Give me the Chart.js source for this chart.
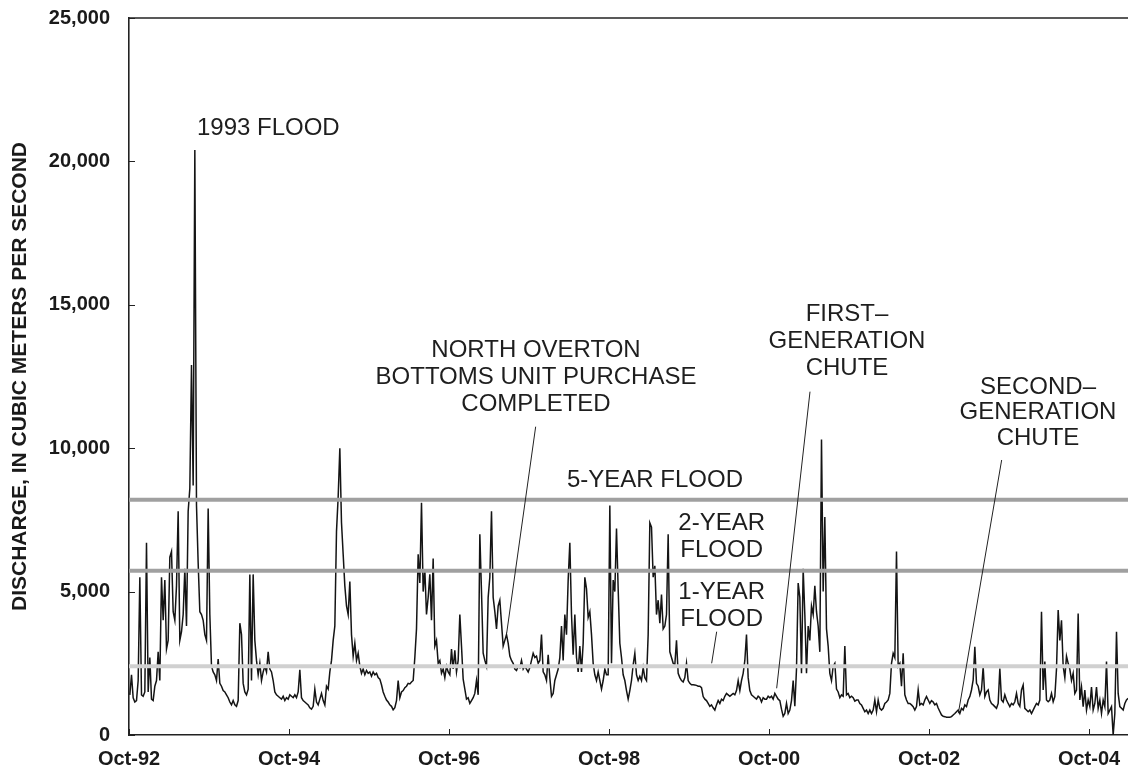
<!DOCTYPE html>
<html>
<head>
<meta charset="utf-8">
<title>Discharge 1992-2005</title>
<script src="https://cdn.jsdelivr.net/npm/chart.js@4.4.1/dist/chart.umd.min.js"></script>
<style>
  html, body { margin: 0; padding: 0; background: #ffffff; }
  #wrap { width: 1128px; height: 779px; }
</style>
</head>
<body>
<div id="wrap"><canvas id="flowChart" width="1128" height="779"></canvas></div>
<script>
// daily discharge, 4 samples per month, one array per water year (Oct-Sep)
var wy1993 = [1400, 2100, 1300, 1150, 1200, 1900, 5500, 1400, 1350, 1500, 6700, 1500,
              2700, 1250, 1200, 1700, 1900, 2900, 1900, 5500, 4000, 5400, 3000, 3300,
              6200, 6400, 4300, 4000, 5200, 7800, 3300, 3600, 4200, 5800, 3800, 7800,
              8600, 12900, 8700, 20400, 8000, 6000, 4300, 4200, 4000, 3500, 3300, 7900];
var wy1994 = [4200, 2400, 2200, 2100, 1900, 2650, 1800, 1700, 1550, 1500, 1400, 1300,
              1150, 1050, 1200, 1050, 1000, 1200, 3900, 3500, 1800, 1500, 1400, 1600,
              5600, 1900, 5600, 3300, 2600, 2100, 2500, 1900, 2200, 2400, 2200, 2900,
              2300, 2200, 1900, 1500, 1400, 1350, 1300, 1250, 1350, 1200, 1300, 1250];
var wy1995 = [1400, 1350, 1300, 1400, 1300, 1500, 2270, 1300, 1200, 1150, 1100, 1050,
              950, 900, 1000, 1600, 1150, 1050, 1250, 1450, 1200, 1050, 1700, 1600,
              2200, 2600, 3300, 3800, 7100, 8300, 10000, 7400, 6300, 5200, 4500, 4200,
              5350, 3500, 2750, 3200, 2600, 2850, 2400, 2150, 2300, 2100, 2250, 2150];
var wy1996 = [2200, 2050, 2200, 2100, 2150, 2000, 1950, 1750, 1500, 1350, 1220, 1150,
              1050, 1000, 880, 950, 1200, 1900, 1300, 1500, 1550, 1650, 1700, 1800,
              1780, 1850, 1900, 2700, 3700, 6300, 5300, 8100, 5000, 5750, 4200, 4800,
              5600, 4000, 6150, 3100, 3300, 2500, 2600, 2150, 2300, 2000, 2400, 2200];
var wy1997 = [2100, 3000, 2300, 2950, 2200, 2600, 4200, 3100, 1950, 1600, 1250, 1300,
              1100, 1200, 1300, 1450, 1900, 1400, 7000, 5000, 2850, 2600, 2400, 4800,
              5500, 7800, 4800, 4300, 3700, 4500, 4700, 3900, 3100, 3300, 3500, 3200,
              2750, 2600, 2500, 2300, 2250, 2400, 2350, 2600, 2300, 2400, 2300, 2200];
var wy1998 = [2350, 2600, 2850, 2700, 2750, 2500, 2600, 3500, 2200, 2100, 1900, 2800,
              2000, 1350, 1450, 1900, 2100, 2300, 2700, 3800, 2600, 4200, 3500, 5400,
              6700, 4200, 2800, 4200, 2700, 2200, 3100, 2200, 3200, 5500, 5100, 4100,
              4300, 3500, 2500, 2100, 1900, 2200, 1900, 1600, 1900, 2300, 2100, 2100];
var wy1999 = [8000, 2500, 5400, 5000, 7200, 5100, 3200, 2700, 2100, 1900, 1550, 1250,
              1550, 1900, 2450, 2850, 2100, 1900, 2050, 1900, 2350, 2000, 1900, 3500,
              7400, 7250, 5500, 5900, 4200, 4700, 3900, 4900, 3700, 3800, 4200, 7000,
              2900, 2700, 2500, 2450, 3300, 2150, 2000, 1900, 1850, 2000, 2500, 1900];
var wy2000 = [1800, 1750, 1750, 1740, 1730, 1700, 1700, 1650, 1340, 1250, 1200, 1100,
              1000, 1050, 950, 870, 1050, 1200, 1100, 1250, 1200, 1350, 1450, 1400,
              1350, 1400, 1450, 1400, 1550, 1900, 1550, 1900, 2150, 2600, 3500, 2000,
              1550, 1400, 1350, 1300, 1250, 1350, 1300, 1150, 1300, 1250, 1250, 1350];
var wy2001 = [1300, 1350, 1250, 1450, 1350, 1250, 1200, 900, 650, 750, 1100, 750,
              870, 1200, 1900, 1000, 2300, 5300, 4800, 2150, 5800, 4200, 2150, 3800,
              3300, 4500, 4200, 5200, 4300, 3800, 2900, 10300, 5000, 7600, 3700, 3100,
              2150, 1900, 2400, 2500, 1600, 1500, 1300, 1400, 1350, 3100, 1400, 1450];
var wy2002 = [1300, 1350, 1300, 1180, 1220, 1220, 1100, 1050, 930, 810, 870, 750,
              870, 750, 870, 1220, 810, 1220, 930, 870, 930, 1100, 1150, 1220,
              1450, 2500, 2850, 2700, 6400, 2400, 2500, 1700, 2850, 1400, 1220, 1100,
              1100, 1050, 990, 870, 990, 1570, 1050, 1100, 1050, 1220, 1340, 1220];
var wy2003 = [1100, 1200, 1150, 1050, 1100, 940, 820, 700, 650, 640, 620, 620,
              620, 640, 700, 750, 810, 870, 750, 930, 870, 1050, 990, 1220,
              1340, 1570, 1920, 3080, 1800, 1700, 1400, 1570, 2380, 1340, 1500, 1570,
              1220, 1100, 1050, 990, 930, 1100, 2320, 1220, 1150, 1400, 1220, 1100];
var wy2004 = [990, 1100, 1050, 1160, 1450, 1100, 1000, 1570, 1740, 930, 870, 810,
              870, 750, 870, 990, 1100, 1050, 1220, 4300, 1570, 2560, 1220, 1160,
              1220, 1450, 1160, 1340, 2300, 4360, 3300, 4000, 2400, 2000, 2750, 2500,
              2300, 1900, 2150, 1450, 1570, 4240, 1220, 1670, 990, 1570, 870, 1220];
var wy2005 = [990, 1670, 870, 1100, 1670, 930, 1220, 750, 1220, 990, 2560, 750,
              870, 990, 0, 750, 3600, 1450, 990, 930, 870, 1100, 1220, 1280];

// flood frequency levels (m3/s)
var floodNames = ['5-year flood', '2-year flood', '1-year flood'];
var floodLevels = [8200, 5730, 2400];

// axis ticks (x in months since Oct-92)
var tickMonths = [0, 24, 48, 72, 96, 120, 144];
var tickLabels = ['Oct-92', 'Oct-94', 'Oct-96', 'Oct-98', 'Oct-00', 'Oct-02', 'Oct-04'];
var yTicks = [0, 5000, 10000, 15000, 20000, 25000];

var waterYears = [wy1993, wy1994, wy1995, wy1996, wy1997, wy1998, wy1999,
                  wy2000, wy2001, wy2002, wy2003, wy2004, wy2005];
var xMax = 149.85;
var FONT = '"Liberation Sans", Arial, Helvetica, sans-serif';

var flowPoints = [];
waterYears.forEach(function (vals, w) {
  vals.forEach(function (v, k) {
    flowPoints.push({ x: w * 12 + (k + 0.5) / 4, y: v });
  });
});

var levelColors = ['#a0a0a0', '#a0a0a0', '#d0d0d0'];
var datasets = floodLevels.map(function (lvl, i) {
  return {
    label: floodNames[i],
    data: [{ x: 0, y: lvl }, { x: xMax, y: lvl }],
    borderColor: levelColors[i],
    borderWidth: 4,
    pointRadius: 0,
    order: 0
  };
});
datasets.push({
  label: 'Discharge',
  data: flowPoints,
  borderColor: '#141414',
  borderWidth: 1.5,
  pointRadius: 0,
  tension: 0,
  order: 1
});

function fmt(v) {
  return String(v).replace(/\B(?=(\d{3})+(?!\d))/g, ',');
}

// labels placed in data units (months, m3/s); gap in px between text lines
var notes = [
  { text: ['1993 FLOOD'], at: [20.9, 21150], gap: 27 },
  { text: ['NORTH OVERTON', 'BOTTOMS UNIT PURCHASE', 'COMPLETED'], at: [61.05, 13425], gap: 27,
    leader: [[61.0, 10750], [56.65, 3546]] },
  { text: ['5-YEAR FLOOD'], at: [78.9, 8874], gap: 27 },
  { text: ['2-YEAR', 'FLOOD'], at: [88.9, 7392], gap: 27.5 },
  { text: ['1-YEAR', 'FLOOD'], at: [88.9, 4969], gap: 26.5,
    leader: [[88.15, 3602], [87.4, 2500]] },
  { text: ['FIRST\u2013', 'GENERATION', 'CHUTE'], at: [107.7, 14680], gap: 27,
    leader: [[102.15, 11971], [97.15, 1628]] },
  { text: ['SECOND\u2013', 'GENERATION', 'CHUTE'], at: [136.35, 12135], gap: 25.5,
    leader: [[130.9, 9589], [124.4, 757]] }
];

var decor = {
  id: 'decor',
  afterDraw: function (chart) {
    var ctx = chart.ctx, a = chart.chartArea;
    var xs = chart.scales.x, ys = chart.scales.y;
    ctx.save();
    // frame top + inner tick marks
    ctx.strokeStyle = '#222';
    ctx.lineWidth = 1.4;
    ctx.beginPath();
    ctx.moveTo(a.left, a.top);
    ctx.lineTo(a.right, a.top);
    ctx.stroke();
    ctx.lineWidth = 1;
    ctx.beginPath();
    tickMonths.forEach(function (m) {
      var px = Math.round(xs.getPixelForValue(m)) + 0.5;
      ctx.moveTo(px, a.bottom);
      ctx.lineTo(px, a.bottom - 6);
    });
    yTicks.forEach(function (v) {
      var py = Math.round(ys.getPixelForValue(v)) + 0.5;
      ctx.moveTo(a.left, py);
      ctx.lineTo(a.left + 6, py);
    });
    ctx.stroke();
    // annotations
    ctx.fillStyle = '#1e1e1e';
    ctx.font = '24px ' + FONT;
    ctx.textAlign = 'center';
    ctx.textBaseline = 'middle';
    notes.forEach(function (n) {
      var cx = xs.getPixelForValue(n.at[0]);
      var cy = ys.getPixelForValue(n.at[1]);
      n.text.forEach(function (t, i) {
        ctx.fillText(t, cx, cy + i * n.gap);
      });
      if (n.leader) {
        ctx.strokeStyle = '#222';
        ctx.lineWidth = 1;
        ctx.beginPath();
        ctx.moveTo(xs.getPixelForValue(n.leader[0][0]), ys.getPixelForValue(n.leader[0][1]));
        ctx.lineTo(xs.getPixelForValue(n.leader[1][0]), ys.getPixelForValue(n.leader[1][1]));
        ctx.stroke();
      }
    });
    ctx.restore();
  }
};

var flowChart = new Chart(document.getElementById('flowChart'), {
  type: 'line',
  data: { datasets: datasets },
  plugins: [decor],
  options: {
    responsive: false,
    devicePixelRatio: 1,
    animation: false,
    layout: { padding: { top: 18, right: 0, bottom: 0, left: 0 } },
    plugins: { legend: { display: false }, tooltip: { enabled: false } },
    scales: {
      x: {
        type: 'linear',
        min: 0,
        max: xMax,
        afterBuildTicks: function (s) { s.ticks = tickMonths.map(function (v) { return { value: v }; }); },
        afterFit: function (s) { s.height = 44; s.paddingLeft = 0; s.paddingRight = 0; },
        grid: { display: false, drawTicks: false },
        border: { display: true, color: '#222', width: 1.6 },
        ticks: {
          autoSkip: false,
          maxRotation: 0,
          padding: 12,
          color: '#1a1a1a',
          font: { family: FONT, size: 20, weight: 'bold' },
          callback: function (v, i) { return tickLabels[i]; }
        }
      },
      y: {
        min: 0,
        max: 25000,
        afterBuildTicks: function (s) { s.ticks = yTicks.map(function (v) { return { value: v }; }); },
        afterFit: function (s) { s.width = 129; s.paddingTop = 0; s.paddingBottom = 0; },
        grid: { display: false, drawTicks: false },
        border: { display: true, color: '#222', width: 1.6 },
        ticks: {
          padding: 19,
          color: '#1a1a1a',
          font: { family: FONT, size: 20, weight: 'bold' },
          callback: function (v) { return fmt(v); }
        },
        title: {
          display: true,
          text: 'DISCHARGE, IN CUBIC METERS PER SECOND',
          color: '#1a1a1a',
          font: { family: FONT, size: 21, weight: 'bold' },
          padding: { top: 8, bottom: 0 }
        }
      }
    }
  }
});
</script>
</body>
</html>
